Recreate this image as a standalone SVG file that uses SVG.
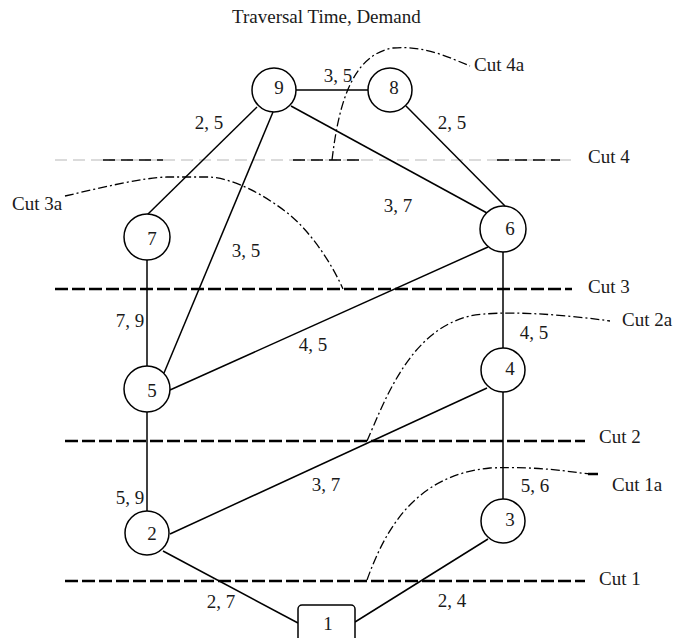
<svg xmlns="http://www.w3.org/2000/svg" width="674" height="638" viewBox="0 0 674 638">
<style>
text{font-family:"Liberation Serif","Times New Roman",serif;font-size:19px;fill:#1a1a1a}
.lbl{text-anchor:middle}
.edge{stroke:#000;stroke-width:1.5;fill:none}
.node{stroke:#000;stroke-width:1.5;fill:#fff}
.cut{stroke:#000;stroke-width:2.3;stroke-dasharray:13,4;fill:none}
.cutg{stroke:#b8b8b8;stroke-width:1.2;stroke-dasharray:12,6;fill:none}
.cutb{stroke:#000;stroke-width:1.5;stroke-dasharray:12,6;fill:none}
.alt{stroke:#000;stroke-width:1.3;stroke-dasharray:9,3,2,3;fill:none}
</style>
<rect width="674" height="638" fill="#fff"/>
<text x="232" y="23">Traversal Time, Demand</text>

<g id="cuts">
<path class="cutg" d="M55,160 H575"/>
<path class="cutb" d="M103,160 H163 M293,160 H365 M497,160 H560"/>
<path class="cut" d="M55,289 H572"/>
<path class="cut" d="M65,441 H585"/>
<path class="cut" d="M65,581 H585"/>
<path class="alt" d="M332,160 C338,110 350,55 393,48 C425,45 450,58 470,66"/>
<path class="alt" d="M65,196 C100,188 140,178 167,177 L210,177 C235,179 265,195 290,215 C310,232 330,260 343,289"/>
<path class="alt" d="M367,441 C385,400 410,330 470,316 C500,310 560,314 610,321"/>
<path class="alt" d="M367,580 C385,530 415,475 490,468 C540,466 570,472 590,474"/>
<path stroke="#000" stroke-width="2.5" d="M588,474 H598"/>
<text x="588" y="163">Cut 4</text>
<text x="588" y="293">Cut 3</text>
<text x="599" y="443">Cut 2</text>
<text x="599" y="585">Cut 1</text>
<text x="474" y="71">Cut 4a</text>
<text x="12" y="210">Cut 3a</text>
<text x="622" y="326">Cut 2a</text>
<text x="612" y="491">Cut 1a</text>
</g>

<g id="connectors">
<path class="edge" d="M296,90 H368"/>
<path class="edge" d="M257,107 L147,215"/>
<path class="edge" d="M273,112 L164,373"/>
<path class="edge" d="M291,106 L487,213"/>
<path class="edge" d="M406,106 L505,206"/>
<path class="edge" d="M488,247 L170,390"/>
<path class="edge" d="M503,252 V348"/>
<path class="edge" d="M147,260 V366"/>
<path class="edge" d="M147,412 V511"/>
<path class="edge" d="M503,392 V499"/>
<path class="edge" d="M487,388 L170,534"/>
<path class="edge" d="M488,539 L355,622"/>
<path class="edge" d="M163,551 L298,623"/>
<text class="lbl" x="338" y="82">3, 5</text>
<text class="lbl" x="209" y="129">2, 5</text>
<text class="lbl" x="452" y="129">2, 5</text>
<text class="lbl" x="398" y="212">3, 7</text>
<text class="lbl" x="246" y="257">3, 5</text>
<text class="lbl" x="130" y="327">7, 9</text>
<text class="lbl" x="313" y="351">4, 5</text>
<text class="lbl" x="534" y="339">4, 5</text>
<text class="lbl" x="326" y="491">3, 7</text>
<text class="lbl" x="130" y="504">5, 9</text>
<text class="lbl" x="535" y="492">5, 6</text>
<text class="lbl" x="221" y="608">2, 7</text>
<text class="lbl" x="452" y="607">2, 4</text>
</g>

<g id="node9"><circle class="node" cx="274" cy="90" r="22"/><text class="lbl" x="279" y="94">9</text></g>
<g id="node8"><circle class="node" cx="390" cy="90" r="22"/><text class="lbl" x="394" y="94">8</text></g>
<g id="node7"><circle class="node" cx="147" cy="237" r="23"/><text class="lbl" x="152" y="245">7</text></g>
<g id="node6"><circle class="node" cx="503" cy="229" r="23"/><text class="lbl" x="510" y="235">6</text></g>
<g id="node5"><circle class="node" cx="147" cy="389" r="23"/><text class="lbl" x="152" y="397">5</text></g>
<g id="node4"><circle class="node" cx="503" cy="370" r="22"/><text class="lbl" x="510" y="375">4</text></g>
<g id="node3"><circle class="node" cx="503" cy="521" r="22"/><text class="lbl" x="510" y="526">3</text></g>
<g id="node2"><circle class="node" cx="147" cy="533" r="22"/><text class="lbl" x="152" y="540">2</text></g>
<g id="node1"><rect class="node" x="298" y="605" width="57" height="45" rx="4"/><text class="lbl" x="328" y="630">1</text></g>
</svg>
